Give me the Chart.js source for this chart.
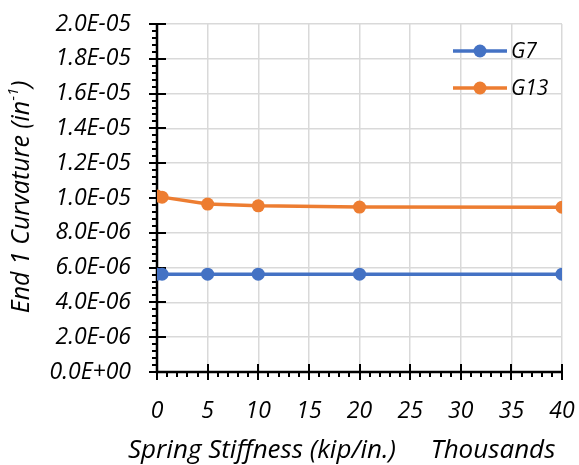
<!DOCTYPE html>
<html>
<head>
<meta charset="utf-8">
<script src="https://cdn.jsdelivr.net/npm/chart.js@4/dist/chart.umd.min.js"></script>
<style>
html,body{margin:0;padding:0;background:#fff;}
#wrap{width:579px;height:465px;position:relative;}
</style>
</head>
<body>
<div id="wrap"><canvas id="c" width="579" height="465"></canvas></div>
<script>
// ---- data ----
const seriesNames = ['G7', 'G13'];
const xG7 = [0, 0.5, 5, 10, 20, 40];
const yG7 = [5.62e-6, 5.62e-6, 5.62e-6, 5.62e-6, 5.62e-6, 5.62e-6];
const xG13 = [0, 0.5, 5, 10, 20, 40];
const yG13 = [1.011e-5, 1.005e-5, 9.65e-6, 9.55e-6, 9.48e-6, 9.47e-6];
const xAxisTitle = 'Spring Stiffness (kip/in.)';
const xUnitLabel = 'Thousands';
const yAxisTitle = 'End 1 Curvature (in';
const yAxisTitleSup = '-1';
const xRange = [0, 40, 5];
const yRange = [0, 2e-5, 2e-6];

const FONT = '"Open Sans", Lato, sans-serif';
const BLUE = '#4472C4';
const ORANGE = '#ED7D31';

function fmtSci(v) {
  const s = Number(v).toExponential(1);
  const [m, e] = s.split('e');
  const ei = parseInt(e, 10);
  return m + 'E' + (ei < 0 ? '-' : '+') + String(Math.abs(ei)).padStart(2, '0');
}

function pts(xs, ys) { return xs.map((x, i) => ({x: x, y: ys[i]})); }

const axesPlugin = {
  id: 'axesPlugin',
  beforeDatasetsDraw(chart) {
    const ctx = chart.ctx;
    const xs = chart.scales.x, ys = chart.scales.y;
    const x0 = xs.getPixelForValue(xRange[0]);
    const y0 = ys.getPixelForValue(yRange[0]);
    ctx.save();
    ctx.strokeStyle = '#000';
    ctx.lineWidth = 2.5;
    ctx.lineCap = 'butt';
    ctx.beginPath();
    ctx.moveTo(x0, ys.getPixelForValue(yRange[1]) - 1);
    ctx.lineTo(x0, y0);
    ctx.lineTo(xs.getPixelForValue(xRange[1]) + 1, y0);
    ctx.stroke();
    ctx.lineWidth = 2;
    const xMinor = xRange[2] / 5;
    for (let i = 0; i <= Math.round((xRange[1] - xRange[0]) / xMinor); i++) {
      const v = xRange[0] + i * xMinor;
      const p = Math.round(xs.getPixelForValue(v));
      ctx.beginPath();
      if (i % 5 === 0) { ctx.moveTo(p, y0 - 8); ctx.lineTo(p, y0 + 8); }
      else { ctx.moveTo(p, y0); ctx.lineTo(p, y0 + 5); }
      ctx.stroke();
    }
    const yMinor = yRange[2] / 5;
    for (let i = 0; i <= Math.round((yRange[1] - yRange[0]) / yMinor); i++) {
      const v = yRange[0] + i * yMinor;
      const p = Math.round(ys.getPixelForValue(v));
      ctx.beginPath();
      if (i % 5 === 0) { ctx.moveTo(x0 - 8, p); ctx.lineTo(x0 + 9, p); }
      else { ctx.moveTo(x0 - 5, p); ctx.lineTo(x0, p); }
      ctx.stroke();
    }
    ctx.restore();
  },
  afterDraw(chart) {
    const ctx = chart.ctx;
    ctx.save();
    ctx.fillStyle = '#000';
    ctx.font = 'italic 26px ' + FONT;
    ctx.textBaseline = 'middle';
    ctx.textAlign = 'center';
    ctx.fillText(xAxisTitle, 262, 451);
    ctx.fillText(xUnitLabel, 493, 451);
    ctx.translate(22, 197);
    ctx.rotate(-Math.PI / 2);
    const mainFont = 'italic 25px ' + FONT;
    const supFont = 'italic 15px ' + FONT;
    ctx.font = mainFont;
    const w1 = ctx.measureText(yAxisTitle).width;
    ctx.font = supFont;
    const w2 = ctx.measureText(yAxisTitleSup).width;
    ctx.font = mainFont;
    const w3 = ctx.measureText(')').width;
    const total = w1 + w2 + w3;
    let x = -total / 2;
    ctx.textAlign = 'left';
    ctx.fillText(yAxisTitle, x, 0); x += w1;
    ctx.font = supFont;
    ctx.fillText(yAxisTitleSup, x, -8); x += w2;
    ctx.font = mainFont;
    ctx.fillText(')', x, 0);
    ctx.restore();

    ctx.save();
    const ly = [51, 88];
    chart.data.datasets.forEach((ds, i) => {
      ctx.strokeStyle = ds.borderColor;
      ctx.lineWidth = 3.5;
      ctx.beginPath();
      ctx.moveTo(453, ly[i]); ctx.lineTo(507, ly[i]);
      ctx.stroke();
      ctx.fillStyle = ds.pointBackgroundColor;
      ctx.beginPath();
      ctx.arc(480, ly[i], 6.5, 0, Math.PI * 2);
      ctx.fill();
      ctx.fillStyle = '#000';
      ctx.font = 'italic 21px ' + FONT;
      ctx.textAlign = 'left';
      ctx.textBaseline = 'middle';
      ctx.fillText(ds.label, 511, ly[i] + 1);
    });
    ctx.restore();
  }
};

new Chart(document.getElementById('c'), {
  type: 'scatter',
  data: {
    datasets: [
      {label: seriesNames[0], data: pts(xG7, yG7), showLine: true, borderColor: BLUE, backgroundColor: BLUE,
       pointBackgroundColor: BLUE, pointBorderColor: BLUE, borderWidth: 3.5, pointRadius: 6.5, pointBorderWidth: 0},
      {label: seriesNames[1], data: pts(xG13, yG13), showLine: true, borderColor: ORANGE, backgroundColor: ORANGE,
       pointBackgroundColor: ORANGE, pointBorderColor: ORANGE, borderWidth: 3.5, pointRadius: 6.5, pointBorderWidth: 0}
    ]
  },
  options: {
    responsive: false,
    animation: false,
    devicePixelRatio: 1,
    layout: {padding: {left: 0, right: 17, top: 24, bottom: 0}},
    plugins: {legend: {display: false}, tooltip: {enabled: false}},
    scales: {
      x: {
        type: 'linear', min: xRange[0], max: xRange[1],
        ticks: {stepSize: xRange[2], padding: 26, color: '#000', font: {family: FONT, size: 23, style: 'italic'}},
        grid: {color: '#d9d9d9', lineWidth: 1.5, drawTicks: false},
        border: {display: false},
        afterFit(s) { s.height = 93; s.paddingLeft = 0; s.paddingRight = 0; }
      },
      y: {
        type: 'linear', min: yRange[0], max: yRange[1],
        ticks: {stepSize: yRange[2], padding: 26, color: '#000', font: {family: FONT, size: 23, style: 'italic'},
                callback: (v) => fmtSci(v)},
        grid: {color: '#d9d9d9', lineWidth: 1.5, drawTicks: false},
        border: {display: false},
        afterFit(s) { s.width = 157; s.paddingTop = 0; s.paddingBottom = 0; }
      }
    }
  },
  plugins: [axesPlugin]
});
</script>
</body>
</html>
